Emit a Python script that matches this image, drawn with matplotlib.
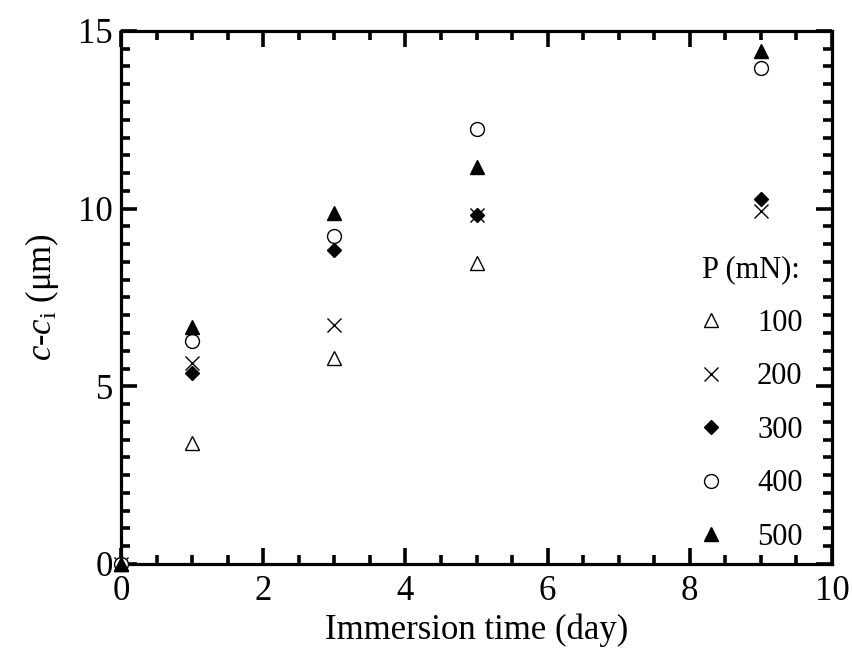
import numpy as np
import matplotlib.pyplot as plt
from matplotlib.ticker import MultipleLocator

plt.rcParams['font.family'] = ['Liberation Serif', 'DejaVu Serif']
plt.rcParams['mathtext.fontset'] = 'custom'
plt.rcParams['mathtext.rm'] = 'Liberation Serif'
plt.rcParams['mathtext.it'] = 'Liberation Serif:italic'

# immersion times (day)
days = [0, 1, 3, 5, 9]
days_100 = [0, 1, 3, 5]

# c - c_i (um) for each load
p100 = [0, 3.41, 5.80, 8.47]
p200 = [0, 5.66, 6.73, 9.82, 9.93]
p300 = [0, 5.38, 8.84, 9.82, 10.26]
p400 = [0, 6.28, 9.23, 12.24, 13.97]
p500 = [0, 6.67, 9.88, 11.17, 14.44]

fs = 25
lfs = 22

fig = plt.figure(figsize=(8.53, 6.57), dpi=100)
ax = fig.add_axes([0.1419, 0.1416, 0.8335, 0.8113])

ms = 10
kw = dict(ls='none', clip_on=False, zorder=3)
ax.plot(days_100, p100, '^', ms=ms, mfc='white', mec='black', mew=1, label='100', **kw)
ax.plot(days, p200, 'x', ms=ms, mec='black', mew=1, label='200', **kw)
ax.plot(days, p300, 'D', ms=7.5, mfc='black', mec='black', label='300', **kw)
ax.plot(days, p400, 'o', ms=ms, mfc='white', mec='black', mew=1, label='400', **kw)
ax.plot(days, p500, '^', ms=ms, mfc='black', mec='black', label='500', **kw)

ax.set_xlim(0, 10)
ax.set_ylim(0, 15)
ax.xaxis.set_major_locator(MultipleLocator(2))
ax.xaxis.set_minor_locator(MultipleLocator(0.5))
ax.yaxis.set_major_locator(MultipleLocator(5))
ax.yaxis.set_minor_locator(MultipleLocator(0.5))
ax.tick_params(which='both', direction='in', top=True, right=True, width=2.6, labelsize=fs)
ax.tick_params(which='major', length=11.5)
ax.tick_params(axis='x', which='major', pad=8)
ax.tick_params(axis='y', which='major', pad=6)
ax.tick_params(which='minor', length=6.5)
for s in ax.spines.values():
    s.set_linewidth(2.3)

ax.set_xlabel('Immersion time (day)', fontsize=fs, labelpad=4)
ax.set_ylabel(r'$c$-$c_{\rm i}$ (μm)', fontsize=fs, labelpad=12)

leg = ax.legend(title='P (mN):', loc='lower left', frameon=False, fontsize=lfs,
                title_fontsize=lfs, handlelength=0.6, handletextpad=1.2,
                labelspacing=0.8, borderaxespad=0, borderpad=0.4,
                bbox_to_anchor=(0.80, 0.0))
leg._legend_box.align = 'left'

fig.savefig('out.png', dpi=100)
